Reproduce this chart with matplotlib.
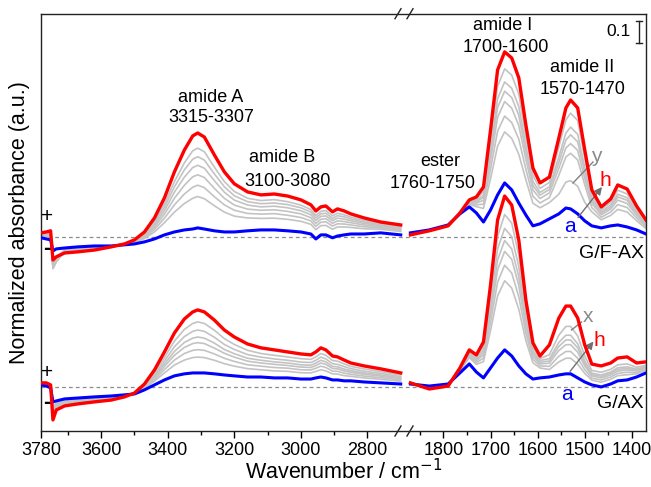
import numpy as np
import matplotlib
matplotlib.use("Agg")
import matplotlib.pyplot as plt
from matplotlib.ticker import FixedLocator, FuncFormatter
from matplotlib.transforms import blended_transform_factory

plt.rcParams['font.family'] = ['Liberation Sans', 'DejaVu Sans']

# ---------------- data (absorbance, relative to each group's baseline) ----------------
wn_left = [3780, 3765, 3752, 3745, 3735, 3710, 3670, 3620, 3570, 3530, 3500, 3470, 3440, 3410,
           3380, 3350, 3325, 3310, 3290, 3260, 3230, 3200, 3160, 3120, 3080, 3040, 3000, 2970,
           2955, 2940, 2925, 2905, 2890, 2870, 2850, 2810, 2760, 2700]
wn_right = [1870, 1830, 1790, 1765, 1745, 1730, 1715, 1700, 1685, 1670, 1655, 1640, 1625, 1610,
            1595, 1575, 1555, 1540, 1530, 1515, 1500, 1485, 1465, 1445, 1430, 1410, 1390, 1370]

# G/F-AX (upper group)
gfax_red_left = [0.018, 0.022, 0.027, -0.102, -0.088, -0.071, -0.066, -0.058, -0.044, -0.031, -0.013, 0.022,
                 0.084, 0.173, 0.288, 0.385, 0.447, 0.460, 0.442, 0.363, 0.288, 0.235, 0.199, 0.186, 0.190,
                 0.181, 0.164, 0.142, 0.115, 0.133, 0.137, 0.111, 0.124, 0.115, 0.102, 0.084, 0.066, 0.053]
gfax_blue_left = [-0.004, -0.009, -0.013, -0.062, -0.053, -0.049, -0.044, -0.040, -0.040, -0.035, -0.031, -0.022,
                  -0.009, 0.009, 0.022, 0.031, 0.035, 0.040, 0.035, 0.027, 0.022, 0.022, 0.027, 0.031, 0.031,
                  0.027, 0.022, 0.013, -0.009, 0.009, 0.009, -0.004, 0.004, 0.009, 0.013, 0.013, 0.018, 0.009]
gfax_gray_left = [
    [0.014, 0.017, 0.021, -0.12, -0.10, -0.068, -0.062, -0.055, -0.043, -0.032, -0.016, 0.015, 0.069, 0.147, 0.245, 0.328, 0.381, 0.393, 0.377, 0.309, 0.245, 0.201, 0.171, 0.161, 0.165, 0.156, 0.141, 0.121, 0.095, 0.113, 0.117, 0.093, 0.105, 0.098, 0.088, 0.073, 0.058, 0.046],
    [0.013, 0.014, 0.017, -0.13, -0.10, -0.066, -0.061, -0.054, -0.043, -0.032, -0.018, 0.011, 0.061, 0.132, 0.222, 0.297, 0.344, 0.355, 0.340, 0.279, 0.222, 0.182, 0.156, 0.147, 0.150, 0.143, 0.129, 0.110, 0.084, 0.102, 0.105, 0.082, 0.094, 0.089, 0.080, 0.066, 0.054, 0.042],
    [0.011, 0.011, 0.013, -0.14, -0.11, -0.064, -0.059, -0.052, -0.043, -0.032, -0.019, 0.007, 0.052, 0.117, 0.198, 0.265, 0.307, 0.317, 0.304, 0.249, 0.198, 0.163, 0.141, 0.133, 0.136, 0.129, 0.116, 0.098, 0.073, 0.091, 0.093, 0.072, 0.083, 0.079, 0.072, 0.060, 0.050, 0.038],
    [0.008, 0.008, 0.009, -0.14, -0.11, -0.062, -0.056, -0.050, -0.042, -0.033, -0.021, 0.003, 0.043, 0.101, 0.171, 0.229, 0.266, 0.275, 0.263, 0.215, 0.171, 0.141, 0.123, 0.118, 0.120, 0.113, 0.102, 0.085, 0.060, 0.078, 0.081, 0.060, 0.071, 0.068, 0.063, 0.053, 0.045, 0.034],
    [0.006, 0.005, 0.005, -0.13, -0.10, -0.060, -0.054, -0.048, -0.042, -0.033, -0.023, -0.002, 0.033, 0.083, 0.142, 0.190, 0.220, 0.229, 0.218, 0.178, 0.142, 0.118, 0.104, 0.101, 0.103, 0.096, 0.086, 0.071, 0.047, 0.065, 0.067, 0.048, 0.058, 0.057, 0.053, 0.045, 0.040, 0.029],
    [0.003, 0.001, 0.000, -0.12, -0.09, -0.057, -0.051, -0.046, -0.041, -0.034, -0.025, -0.007, 0.022, 0.063, 0.110, 0.148, 0.171, 0.179, 0.169, 0.138, 0.110, 0.092, 0.084, 0.082, 0.083, 0.078, 0.069, 0.056, 0.032, 0.050, 0.051, 0.034, 0.044, 0.044, 0.042, 0.036, 0.034, 0.024],
]
gfax_red_right = [0.009, 0.027, 0.049, 0.106, 0.164, 0.177, 0.221, 0.473, 0.739, 0.819, 0.792, 0.704, 0.496, 0.305,
                  0.239, 0.265, 0.438, 0.571, 0.606, 0.571, 0.385, 0.208, 0.133, 0.168, 0.230, 0.212, 0.137, 0.075]
gfax_blue_right = [0.018, 0.031, 0.053, 0.102, 0.133, 0.106, 0.066, 0.119, 0.186, 0.239, 0.208, 0.150, 0.097, 0.049,
                   0.058, 0.080, 0.102, 0.128, 0.124, 0.102, 0.071, 0.049, 0.040, 0.049, 0.053, 0.044, 0.031, 0.013]
gfax_gray_right = [
    [0.010, 0.028, 0.050, 0.105, 0.160, 0.168, 0.201, 0.427, 0.667, 0.744, 0.716, 0.632, 0.444, 0.272, 0.215, 0.241, 0.398, 0.518, 0.548, 0.515, 0.347, 0.187, 0.121, 0.153, 0.207, 0.190, 0.123, 0.067],
    [0.011, 0.028, 0.050, 0.105, 0.157, 0.161, 0.185, 0.392, 0.612, 0.686, 0.658, 0.577, 0.404, 0.246, 0.197, 0.222, 0.354, 0.460, 0.486, 0.454, 0.307, 0.171, 0.112, 0.141, 0.189, 0.173, 0.113, 0.061],
    [0.012, 0.028, 0.050, 0.105, 0.155, 0.156, 0.175, 0.367, 0.573, 0.645, 0.617, 0.538, 0.376, 0.228, 0.185, 0.210, 0.330, 0.429, 0.452, 0.421, 0.285, 0.160, 0.105, 0.132, 0.177, 0.162, 0.105, 0.056],
    [0.012, 0.029, 0.051, 0.104, 0.152, 0.150, 0.162, 0.338, 0.529, 0.599, 0.570, 0.493, 0.344, 0.208, 0.170, 0.195, 0.304, 0.394, 0.413, 0.383, 0.259, 0.148, 0.098, 0.123, 0.163, 0.148, 0.097, 0.051],
    [0.013, 0.029, 0.051, 0.104, 0.149, 0.142, 0.145, 0.300, 0.468, 0.535, 0.506, 0.433, 0.300, 0.180, 0.150, 0.174, 0.273, 0.354, 0.370, 0.341, 0.231, 0.130, 0.087, 0.110, 0.143, 0.130, 0.085, 0.045],
    [0.014, 0.029, 0.051, 0.104, 0.145, 0.134, 0.126, 0.257, 0.402, 0.465, 0.436, 0.366, 0.253, 0.149, 0.129, 0.152, 0.189, 0.243, 0.249, 0.224, 0.153, 0.111, 0.076, 0.095, 0.122, 0.110, 0.072, 0.037],
]

# G/AX (lower group)
gax_red_left = [0.018, 0.018, 0.009, -0.146, -0.102, -0.084, -0.075, -0.066, -0.058, -0.044, -0.027, 0.013,
                0.075, 0.155, 0.239, 0.301, 0.332, 0.341, 0.332, 0.296, 0.252, 0.221, 0.190, 0.173, 0.164,
                0.155, 0.146, 0.142, 0.155, 0.173, 0.164, 0.137, 0.133, 0.119, 0.106, 0.093, 0.080, 0.062]
gax_blue_left = [0.009, 0.004, -0.004, -0.066, -0.062, -0.053, -0.049, -0.044, -0.040, -0.035, -0.031, -0.013,
                 0.009, 0.031, 0.049, 0.058, 0.062, 0.062, 0.062, 0.058, 0.053, 0.049, 0.044, 0.044, 0.040,
                 0.040, 0.035, 0.035, 0.040, 0.044, 0.040, 0.031, 0.031, 0.027, 0.027, 0.022, 0.018, 0.013]
gax_gray_left = [
    [0.016, 0.015, 0.007, -0.131, -0.094, -0.078, -0.070, -0.062, -0.055, -0.042, -0.028, 0.008, 0.062, 0.131, 0.203, 0.255, 0.281, 0.288, 0.281, 0.251, 0.214, 0.188, 0.162, 0.148, 0.140, 0.133, 0.125, 0.122, 0.133, 0.148, 0.140, 0.117, 0.114, 0.102, 0.091, 0.080, 0.068, 0.053],
    [0.015, 0.014, 0.005, -0.120, -0.089, -0.074, -0.067, -0.059, -0.052, -0.041, -0.028, 0.005, 0.054, 0.115, 0.178, 0.223, 0.246, 0.252, 0.246, 0.220, 0.188, 0.166, 0.143, 0.132, 0.124, 0.118, 0.110, 0.108, 0.118, 0.132, 0.124, 0.103, 0.100, 0.090, 0.081, 0.070, 0.060, 0.046],
    [0.014, 0.012, 0.003, -0.112, -0.085, -0.071, -0.064, -0.057, -0.050, -0.040, -0.029, 0.002, 0.047, 0.102, 0.157, 0.197, 0.216, 0.221, 0.216, 0.194, 0.166, 0.147, 0.127, 0.118, 0.111, 0.106, 0.098, 0.096, 0.106, 0.118, 0.111, 0.091, 0.089, 0.079, 0.072, 0.062, 0.053, 0.041],
    [0.013, 0.011, 0.002, -0.104, -0.081, -0.068, -0.061, -0.055, -0.049, -0.039, -0.029, -0.001, 0.041, 0.091, 0.140, 0.175, 0.192, 0.196, 0.192, 0.172, 0.149, 0.132, 0.114, 0.106, 0.100, 0.095, 0.088, 0.086, 0.095, 0.106, 0.100, 0.082, 0.080, 0.071, 0.065, 0.056, 0.048, 0.037],
    [0.012, 0.009, 0.001, -0.096, -0.077, -0.064, -0.059, -0.052, -0.047, -0.038, -0.030, -0.003, 0.033, 0.077, 0.119, 0.148, 0.162, 0.165, 0.162, 0.146, 0.127, 0.113, 0.098, 0.092, 0.086, 0.083, 0.076, 0.075, 0.083, 0.092, 0.086, 0.070, 0.069, 0.061, 0.056, 0.048, 0.041, 0.031],
    [0.011, 0.008, -0.001, -0.086, -0.072, -0.061, -0.056, -0.050, -0.045, -0.037, -0.030, -0.007, 0.026, 0.062, 0.097, 0.119, 0.130, 0.132, 0.130, 0.118, 0.103, 0.092, 0.081, 0.076, 0.071, 0.069, 0.063, 0.062, 0.069, 0.076, 0.071, 0.058, 0.057, 0.050, 0.047, 0.040, 0.034, 0.025],
]
gax_red_right = [0.018, -0.009, 0.004, 0.084, 0.164, 0.142, 0.199, 0.451, 0.739, 0.845, 0.805, 0.650, 0.385, 0.195,
                 0.137, 0.186, 0.305, 0.358, 0.358, 0.305, 0.186, 0.101, 0.093, 0.106, 0.128, 0.133, 0.106, 0.111]
gax_blue_right = [0.013, 0.004, 0.013, 0.062, 0.102, 0.066, 0.040, 0.084, 0.128, 0.164, 0.137, 0.093, 0.058, 0.035,
                  0.040, 0.044, 0.053, 0.058, 0.058, 0.040, 0.022, 0.009, 0.000, 0.013, 0.027, 0.031, 0.044, 0.062]
gax_gray_right = [
    [0.017, -0.007, 0.005, 0.081, 0.157, 0.133, 0.180, 0.407, 0.666, 0.763, 0.725, 0.583, 0.346, 0.176, 0.125, 0.143, 0.229, 0.268, 0.268, 0.226, 0.137, 0.073, 0.065, 0.078, 0.098, 0.102, 0.087, 0.096],
    [0.017, -0.006, 0.006, 0.079, 0.151, 0.126, 0.166, 0.374, 0.611, 0.702, 0.665, 0.533, 0.316, 0.161, 0.117, 0.125, 0.197, 0.229, 0.229, 0.191, 0.115, 0.061, 0.053, 0.066, 0.085, 0.089, 0.079, 0.090],
    [0.017, -0.005, 0.007, 0.078, 0.146, 0.120, 0.153, 0.345, 0.562, 0.648, 0.611, 0.488, 0.290, 0.149, 0.109, 0.115, 0.179, 0.208, 0.208, 0.173, 0.104, 0.055, 0.047, 0.060, 0.078, 0.082, 0.075, 0.087],
    [0.016, -0.004, 0.007, 0.076, 0.142, 0.115, 0.142, 0.319, 0.519, 0.600, 0.565, 0.449, 0.267, 0.137, 0.102, 0.105, 0.161, 0.187, 0.187, 0.154, 0.093, 0.049, 0.040, 0.053, 0.070, 0.075, 0.071, 0.083],
    [0.016, -0.003, 0.008, 0.074, 0.136, 0.108, 0.127, 0.286, 0.464, 0.539, 0.504, 0.399, 0.238, 0.123, 0.093, 0.091, 0.136, 0.157, 0.157, 0.127, 0.076, 0.039, 0.031, 0.044, 0.060, 0.065, 0.064, 0.078],
    [0.015, -0.002, 0.009, 0.072, 0.130, 0.100, 0.112, 0.249, 0.403, 0.470, 0.438, 0.344, 0.205, 0.107, 0.084, 0.077, 0.111, 0.127, 0.127, 0.101, 0.060, 0.030, 0.021, 0.034, 0.050, 0.054, 0.058, 0.073],
]

major_ticks = [3780, 3600, 3400, 3200, 3000, 2800, 1800, 1700, 1600, 1500, 1400]
minor_ticks = [3700, 3500, 3300, 3100, 2900, 1850, 1750, 1650, 1550, 1450]

GROUP_OFFSET = 0.664   # vertical stacking offset of the G/F-AX group
SCALE_BAR = 0.1

# ---------------- broken x scale ----------------
L0, L1, R0, R1 = 3780.0, 2700.0, 1870.0, 1370.0
kL, kR, GAP = 0.3327, 0.471, 9.7
pL = (L0 - L1) * kL


def fwd(w):
    w = np.asarray(w, dtype=float)
    p = np.where(w >= L1, (L0 - w) * kL,
                 np.where(w >= R0, pL + (L1 - w) / (L1 - R0) * GAP,
                          pL + GAP + (R0 - w) * kR))
    return -p


def inv(s):
    p = -np.asarray(s, dtype=float)
    return np.where(p <= pL, L0 - p / kL,
                    np.where(p <= pL + GAP, L1 - (p - pL) / GAP * (L1 - R0),
                             R0 - (p - pL - GAP) / kR))


W, H = 651, 487
fig = plt.figure(figsize=(W / 100, H / 100), dpi=100)
AX_L, AX_R, AX_T, AX_B = 41.3, 646.0, 13.7, 431.0
ax = fig.add_axes([AX_L / W, 1 - AX_B / H, (AX_R - AX_L) / W, (AX_B - AX_T) / H])
ax.set_xscale('function', functions=(fwd, inv))
ax.set_xlim(L0, R1)
ax.set_ylim(-0.195, 1.652)


def P(px, py):
    return ((px - AX_L) / (AX_R - AX_L), (AX_B - py) / (AX_B - AX_T))


GRAY = '#C3C3C3'
RED = '#FF0000'
BLUE = '#0000FF'

for off, gl, gr, bl, br, rl, rr in [
        (GROUP_OFFSET, gfax_gray_left, gfax_gray_right, gfax_blue_left, gfax_blue_right, gfax_red_left, gfax_red_right),
        (0.0, gax_gray_left, gax_gray_right, gax_blue_left, gax_blue_right, gax_red_left, gax_red_right)]:
    ax.axhline(off, color='#8C8C8C', lw=0.9, ls=(0, (3, 2.5)), zorder=1)
    for g in gl:
        ax.plot(wn_left, np.array(g) + off, color=GRAY, lw=1.2, zorder=2, solid_joinstyle='round')
    for g in gr:
        ax.plot(wn_right, np.array(g) + off, color=GRAY, lw=1.2, zorder=2, solid_joinstyle='round')
    ax.plot(wn_left, np.array(bl) + off, color=BLUE, lw=2.2, zorder=3, solid_joinstyle='round')
    ax.plot(wn_right, np.array(br) + off, color=BLUE, lw=2.2, zorder=3, solid_joinstyle='round')
    ax.plot(wn_left, np.array(rl) + off, color=RED, lw=2.4, zorder=4, solid_joinstyle='round')
    ax.plot(wn_right, np.array(rr) + off, color=RED, lw=2.4, zorder=4, solid_joinstyle='round')

# ticks
ax.xaxis.set_major_locator(FixedLocator(major_ticks))
ax.xaxis.set_minor_locator(FixedLocator(minor_ticks))
ax.xaxis.set_major_formatter(FuncFormatter(lambda v, pos: f"{int(round(v))}"))
ax.tick_params(axis='x', which='major', direction='out', length=5, width=1.0, labelsize=13, pad=3)
ax.tick_params(axis='x', which='minor', direction='out', length=3, width=1.0)
ax.set_yticks([])
for s in ax.spines.values():
    s.set_linewidth(1.0)
    s.set_color('#222222')

ax.set_xlabel('Wavenumber / cm$^{-1}$', fontsize=15.5, labelpad=0)
ax.set_ylabel('Normalized absorbance (a.u.)', fontsize=15.5, labelpad=8)

# break marks
for yb in (AX_T, AX_B):
    for xc in (398.0, 410.0):
        x0, y0 = P(xc - 3, yb + 5)
        x1, y1 = P(xc + 3, yb - 5)
        ax.plot([x0, x1], [y0, y1], transform=ax.transAxes, color='#222222', lw=1.0, clip_on=False, zorder=6)

# annotations
txt = dict(fontsize=13, ha='center', va='center', transform=ax.transAxes)
for s, (px, py) in [('amide A', (211, 98)), ('3315-3307', (211, 118)),
                    ('amide B', (282, 158)), ('3100-3080', (288, 181)),
                    ('ester', (440, 162)), ('1760-1750', (433, 184)),
                    ('amide I', (503, 25)), ('1700-1600', (506, 47)),
                    ('amide II', (582, 67)), ('1570-1470', (583, 89))]:
    ax.text(*P(px, py), s, **txt)

ax.text(*P(631, 32), '0.1', fontsize=12.5, ha='right', va='center', transform=ax.transAxes)
bt = blended_transform_factory(ax.transAxes, ax.transData)
xb = P(638.5, 0)[0]
cap = 3.0 / (AX_R - AX_L)
y_top = (387 - 20.7) / 226.0
ax.plot([xb, xb], [y_top - SCALE_BAR, y_top], transform=bt, color='#222222', lw=1.0)
for yy in (y_top - SCALE_BAR, y_top):
    ax.plot([xb - cap, xb + cap], [yy, yy], transform=bt, color='#222222', lw=1.0)

ax.text(*P(644, 254), 'G/F-AX', fontsize=14, ha='right', va='center', transform=ax.transAxes)
ax.text(*P(644, 403), 'G/AX', fontsize=14, ha='right', va='center', transform=ax.transAxes)

for (px, py) in [(47, 216), (47, 372)]:
    ax.text(*P(px, py), '+', fontsize=15, ha='center', va='center', transform=ax.transAxes)
for (px, py) in [(47, 249), (47, 403)]:
    ax.text(*P(px, py), '-', fontsize=17, ha='center', va='center', transform=ax.transAxes,
            fontweight='bold')

# labels a / h / x / y with arrows
LAB = dict(fontsize=15, ha='center', va='center', transform=ax.transAxes)
ax.text(*P(596, 156), 'y', color='#8A8A8A', **LAB)
ax.text(*P(605, 180), 'h', color=RED, **LAB)
ax.text(*P(570, 227), 'a', color=BLUE, **LAB)
ax.text(*P(588, 317), 'x', color='#8A8A8A', **LAB)
ax.text(*P(599, 340), 'h', color=RED, **LAB)
ax.text(*P(567, 395), 'a', color=BLUE, **LAB)

ax.plot(*zip(P(593, 162), P(573, 183)), transform=ax.transAxes, color='#808080', lw=1.0)
ax.plot(*zip(P(581.5, 322), P(571.5, 330)), transform=ax.transAxes, color='#808080', lw=1.0)
for (s, e) in [((578, 217.5), (602, 187)), ((570, 371.5), (593.5, 341.5))]:
    ax.annotate('', xy=P(*e), xytext=P(*s), xycoords='axes fraction', textcoords='axes fraction',
                arrowprops=dict(arrowstyle='-|>', color='#707070', lw=1.0, mutation_scale=11,
                                shrinkA=0, shrinkB=0))

fig.savefig('out.png', dpi=100)
